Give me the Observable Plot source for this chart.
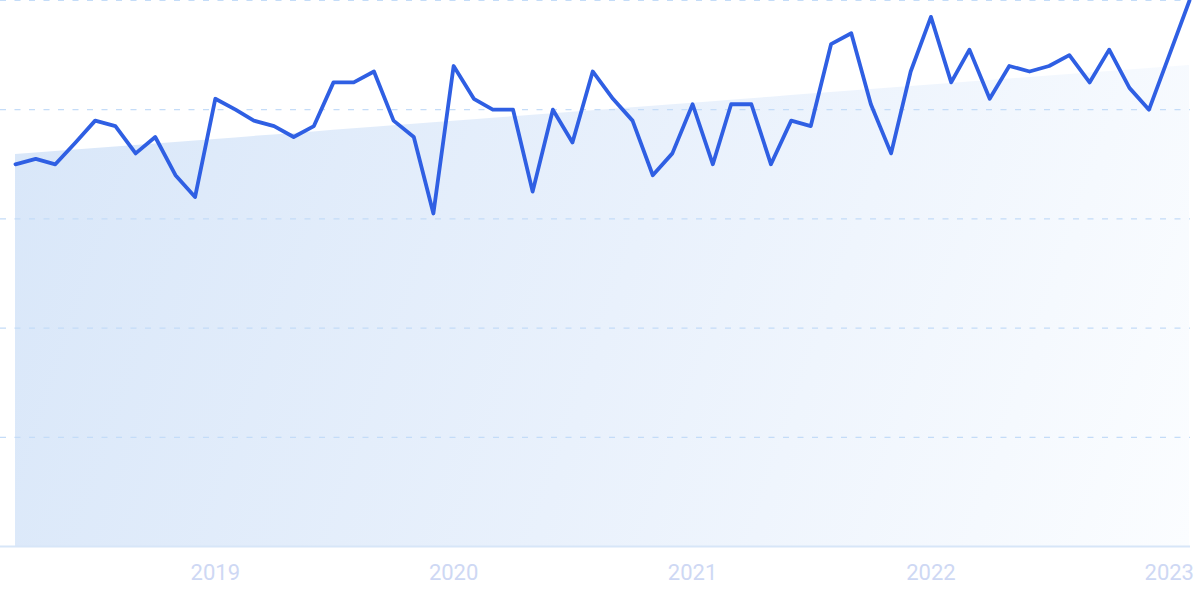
<!DOCTYPE html>
<html><head><meta charset="utf-8">
<script src="https://cdn.jsdelivr.net/npm/d3@7"></script>
<script src="https://cdn.jsdelivr.net/npm/@observablehq/plot@0.6"></script>
<style>
html,body{margin:0;padding:0;background:#fff;}
#chart{width:1200px;height:599px;overflow:hidden;}
</style></head><body><div id="chart"></div>
<script>
const months = [
  "2018-03","2018-04","2018-05","2018-06","2018-07","2018-08","2018-09","2018-10","2018-11","2018-12",
  "2019-01","2019-02","2019-03","2019-04","2019-05","2019-06","2019-07","2019-08","2019-09","2019-10","2019-11","2019-12",
  "2020-01","2020-02","2020-03","2020-04","2020-05","2020-06","2020-07","2020-08","2020-09","2020-10","2020-11","2020-12",
  "2021-01","2021-02","2021-03","2021-04","2021-05","2021-06","2021-07","2021-08","2021-09","2021-10","2021-11","2021-12",
  "2022-01","2022-02","2022-03","2022-04","2022-05","2022-06","2022-07","2022-08","2022-09","2022-10","2022-11","2022-12",
  "2023-01","2023-02"
];
const values = [
  70,71,70,74,78,77,72,75,68,64,
  82,80,78,77,75,77,85,85,87,78,75,61,
  88,82,80,80,65,80,74,87,82,78,68,72,
  81,70,81,81,70,78,77,92,94,81,72,87,
  97,85,91,82,88,87,88,90,85,91,84,80,
  90,100
];
const yearTicks = ["2019-01-01","2020-01-01","2021-01-01","2022-01-01","2023-01-01"];
const gridValues = [20,40,60,80,100];

const data = months.map((m,i)=>({date:new Date(m+"-01T00:00:00Z"), value:values[i], i}));
const n = data.length;
const mx = d3.mean(data,d=>d.i), my = d3.mean(data,d=>d.value);
const slope = d3.sum(data,d=>(d.i-mx)*(d.value-my))/d3.sum(data,d=>(d.i-mx)**2);
const trend = data.map(d=>({date:d.date, value:my + slope*(d.i-mx)}));

const chart = Plot.plot({
  width:1200, height:599,
  marginTop:0, marginBottom:53, marginLeft:0, marginRight:10,
  style:{fontFamily:"Roboto", fontSize:"22px", color:"#ced8f4", background:"#fff", overflow:"visible"},
  x:{type:"utc", domain:[data[0].date, data[n-1].date], range:[15,1189],
     ticks: yearTicks.map(s=>new Date(s+"T00:00:00Z")), tickFormat:d3.utcFormat("%Y"),
     tickSize:0, tickPadding:18, label:null},
  y:{domain:[0,100], axis:null},
  marks:[
    Plot.areaY(trend,{x:"date", y:"value", fill:"url(#trendGrad)"}),
    Plot.ruleY(gridValues,{stroke:"#c4dcf8", strokeDasharray:"6,8.5", strokeWidth:1.2}),
    Plot.ruleY([0],{stroke:"#d7e6f8", strokeWidth:2}),
    Plot.lineY(data,{x:"date", y:"value", stroke:"#2f5fe3", strokeWidth:3.8, strokeLinejoin:"round", strokeLinecap:"round"})
  ]
});

const svg = d3.select(chart);
const defs = svg.insert("defs",":first-child");
const g = defs.append("linearGradient").attr("id","trendGrad")
  .attr("gradientUnits","userSpaceOnUse")
  .attr("x1",15).attr("y1",150).attr("x2",1189).attr("y2",546);
g.append("stop").attr("offset","0").attr("stop-color","#d9e7f9");
g.append("stop").attr("offset","0.5").attr("stop-color","#e9f1fc");
g.append("stop").attr("offset","1").attr("stop-color","#fbfdff");

document.getElementById("chart").appendChild(chart);
</script>
</body></html>
